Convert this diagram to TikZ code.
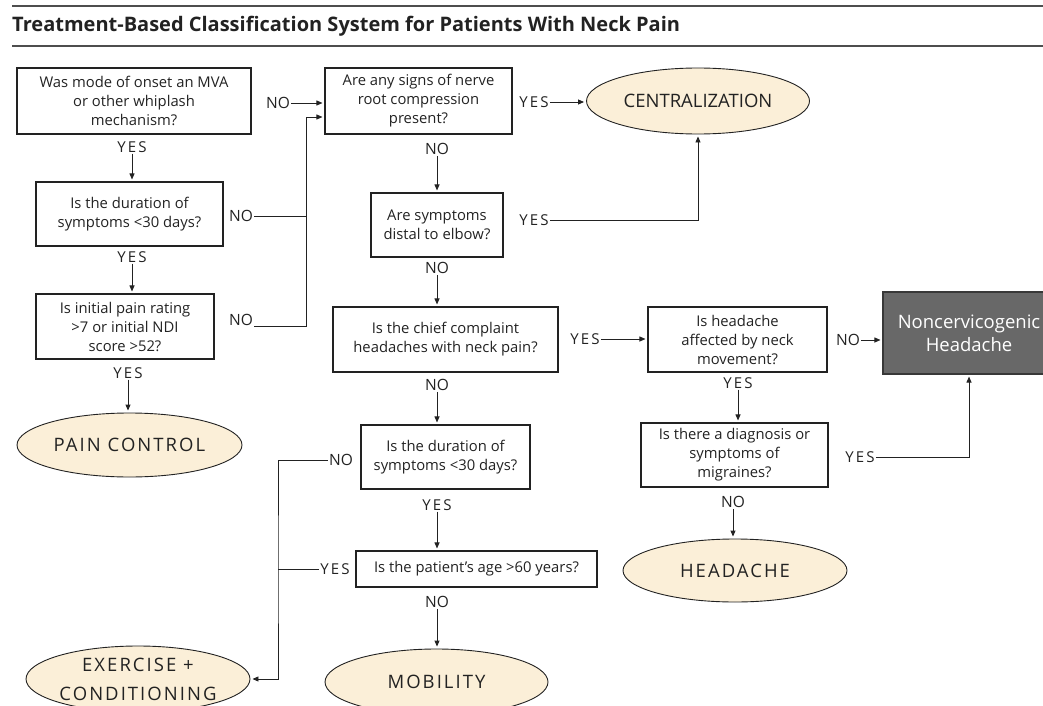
\documentclass[tikz,border=0pt]{standalone}
\usepackage{fontspec}
\setmainfont{Open Sans}
\newfontfamily\ynfont[LetterSpace=14]{Open Sans}
\newfontfamily\capsfont[LetterSpace=11]{Open Sans}
\usetikzlibrary{arrows.meta,shapes.geometric}
\definecolor{cream}{HTML}{FBEFD8}
\definecolor{slate}{HTML}{686868}
\definecolor{ink}{HTML}{222222}
\tikzset{
  qbox/.style={draw=ink, line width=1.1pt, align=center, inner sep=0pt,
    font=\fontsize{14.8}{19}\selectfont, text=ink},
  endpt/.style={ellipse, draw=ink, line width=0.9pt, fill=cream, align=center,
    inner sep=0pt, text=ink, font=\capsfont\fontsize{18.5}{29}\selectfont},
  yeslab/.style={inner sep=1pt, font=\ynfont\fontsize{15}{16}\selectfont, text=ink},
  nolab/.style={inner sep=1pt, font=\fontsize{15.5}{16}\selectfont, text=ink},
  flow/.style={draw=ink, line width=0.9pt},
  arr/.style={flow, -{Triangle[length=6pt,width=5pt]}, shorten >=2pt},
}

\begin{document}
\begin{tikzpicture}[x=1pt,y=-1pt]
  \useasboundingbox (0,0) rectangle (1043,706);
  \clip (0,0) rectangle (1043,706);
  \draw[line width=1.6pt, ink!80] (12,6) -- (1043,6);
  \draw[line width=1.6pt, ink!80] (12,46) -- (1043,46);
  \node[anchor=base west, inner sep=0pt, text=ink,
    font=\bfseries\fontsize{20}{22}\selectfont] (title) at (12,32)
    {Treatment-Based Classification System for Patients With Neck Pain};

  \node[qbox, minimum width=234, minimum height=66] (onset) at (134,101)
    {Was mode of onset an MVA\\or other whiplash\\mechanism?};
  \node[qbox, minimum width=187, minimum height=64] (dura) at (129.5,214)
    {Is the duration of\\symptoms <30 days?};
  \node[qbox, minimum width=178, minimum height=65] (rating) at (125,326.5)
    {Is initial pain rating\\>7 or initial NDI\\score >52?};
  \node[qbox, minimum width=187, minimum height=66] (nerve) at (418.5,101)
    {Are any signs of nerve\\root compression\\present?};
  \node[qbox, minimum width=132, minimum height=64] (distal) at (437,225)
    {Are symptoms\\distal to elbow?};
  \node[qbox, minimum width=225, minimum height=65] (chief) at (445.5,339.5)
    {Is the chief complaint\\headaches with neck pain?};
  \node[qbox, minimum width=179, minimum height=65] (affect) at (737.5,339.5)
    {Is headache\\affected by neck\\movement?};
  \node[qbox, minimum width=187, minimum height=64] (migr) at (734.5,455)
    {Is there a diagnosis or\\symptoms of\\migraines?};
  \node[qbox, minimum width=169, minimum height=64] (durb) at (445.5,457)
    {Is the duration of\\symptoms <30 days?};
  \node[qbox, minimum width=241, minimum height=36] (age) at (476.5,569)
    {Is the patient's age >60 years?};
  \node[qbox, draw=ink!90, fill=slate, text=white, minimum width=172, minimum height=82,
    font=\fontsize{18.5}{23}\selectfont] (noncerv) at (969,333)
    {Noncervicogenic\\Headache};

  \node[endpt, font=\fontsize{18.5}{24}\selectfont, minimum width=223, minimum height=66]
    (central) at (698,101) {CENTRALIZATION};
  \node[endpt, minimum width=225, minimum height=64] (painc) at (129.5,445) {PAIN CONTROL};
  \node[endpt, minimum width=224, minimum height=63] (headache) at (735,570.5) {HEADACHE};
  \node[endpt, minimum width=223, minimum height=66] (mobil) at (436.5,682) {MOBILITY};
  \node[endpt, minimum width=224, minimum height=66] (exerc) at (138,679) {EXERCISE +\\CONDITIONING};

  \node[yeslab] (y1) at (132,147) {YES};
  \node[yeslab] (y2) at (132,257) {YES};
  \node[yeslab] (y3) at (128,373) {YES};
  \node[nolab] (n1) at (278,103) {NO};
  \node[nolab] (n2) at (241,216) {NO};
  \node[nolab] (n3) at (241,320) {NO};
  \node[yeslab] (y4) at (534,102) {YES};
  \node[nolab] (n4) at (437,149) {NO};
  \node[yeslab] (y5) at (534,220) {YES};
  \node[nolab] (n5) at (437,268) {NO};
  \node[yeslab] (y6) at (585,339) {YES};
  \node[nolab] (n6) at (437,385) {NO};
  \node[nolab] (n7) at (848,340) {NO};
  \node[yeslab] (y7) at (738,383) {YES};
  \node[yeslab] (y8) at (860,457) {YES};
  \node[nolab] (n8) at (733,502) {NO};
  \node[nolab] (n9) at (341,460) {NO};
  \node[yeslab] (y9) at (437,505) {YES};
  \node[yeslab] (y10) at (335,569) {YES};
  \node[nolab] (n10) at (437,602) {NO};

  \coordinate (jn) at (306,117);
  \coordinate (jl) at (278,569);

  \draw[arr] (y1.south) -- (y1.south |- dura.north);
  \draw[arr] (y2.south) -- (y2.south |- rating.north);
  \draw[arr] (y3.south) -- (y3.south |- painc.north);
  \draw[arr] (n1.east) -- (n1.east -| nerve.west);
  \draw[flow] (n2.east) -- (n2.east -| jn);
  \draw[arr] ([yshift=-6pt]n3.east) -| (jn) -- (jn -| nerve.west);
  \draw[arr] (y4.east) -- (y4.east -| central.west);
  \draw[arr] (n4.south) -- (n4.south |- distal.north);
  \draw[arr] (y5.east) -| (central.south);
  \draw[arr] (n5.south) -- (n5.south |- chief.north);
  \draw[arr] (y6.east) -- (y6.east -| affect.west);
  \draw[arr] (n6.south) -- (n6.south |- durb.north);
  \draw[arr] (n7.east) -- (n7.east -| noncerv.west);
  \draw[arr] (y7.south) -- (y7.south |- migr.north);
  \draw[arr] (y8.east) -| (noncerv.south);
  \draw[arr] (n8.south) -- (n8.south |- headache.north);
  \draw[arr] (n9.west) -| (jl) |- (exerc.east);
  \draw[flow] (y10.west) -- (jl);
  \draw[arr] (y9.south) -- (y9.south |- age.north);
  \draw[arr] (n10.south) -- (n10.south |- mobil.north);
\end{tikzpicture}
\end{document}
